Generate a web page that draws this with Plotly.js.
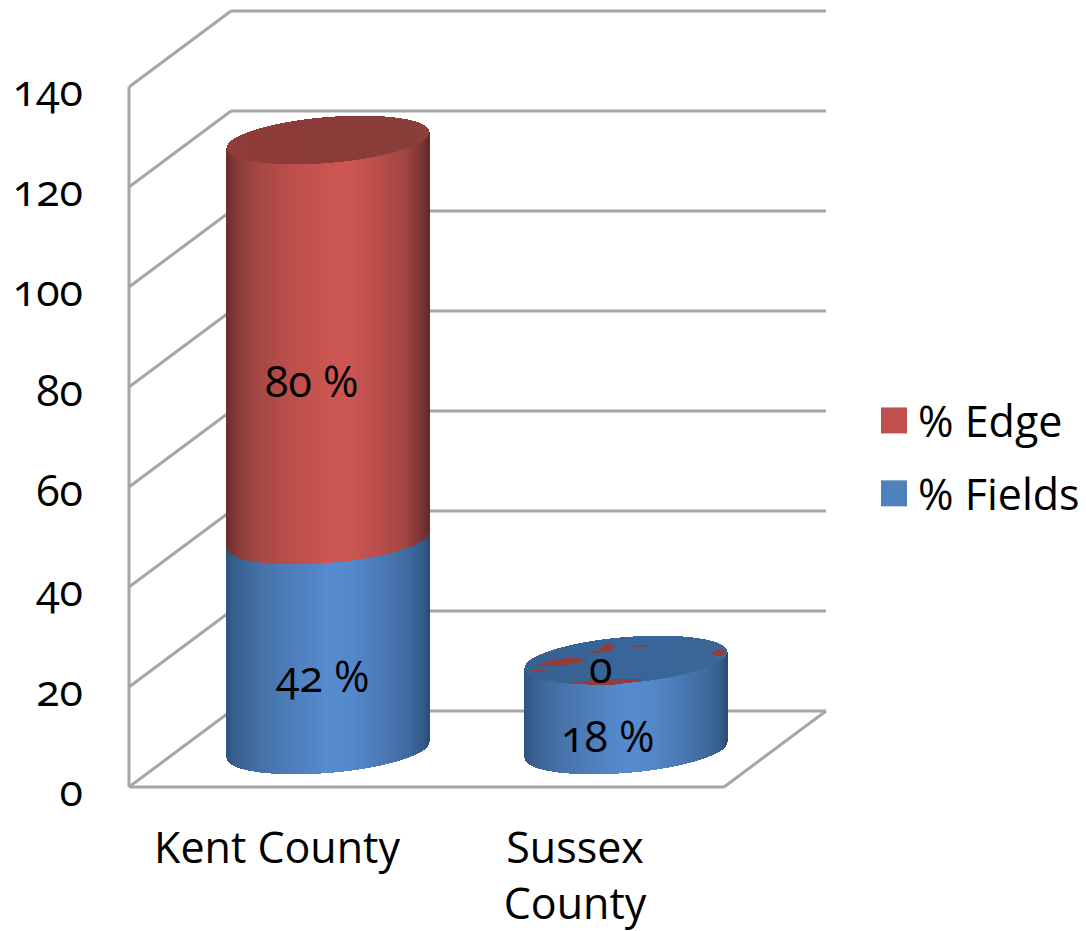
<!DOCTYPE html>
<html>
<head>
<meta charset="utf-8">
<script src="https://cdn.plot.ly/plotly-3.0.1.min.js"></script>
<style>
html,body{margin:0;padding:0;background:#fff;font-variant-numeric:oldstyle-nums;font-feature-settings:"onum" 1;}
#chart{width:1086px;height:931px;}
#chart text{font-variant-numeric:oldstyle-nums;font-feature-settings:"onum" 1;}
</style>
</head>
<body>
<div id="chart"></div>
<script>
// ---- data ----
const categories = ['Kent County', 'Sussex<br>County'];
const fieldsValues = [42, 18];
const edgeValues = [80, 0];
const yTicks = [0, 20, 40, 60, 80, 100, 120, 140];

// ---- frame: pixel scale of the axes ----
const W = 1086, H = 931;
const plotL = 120, plotR = 832, plotT = 5, plotB = 795;
const pxPerCat = 298, pxPerUnit = 5, cat0Px = 277, zeroPx = 787;
const toX = px => (px - cat0Px) / pxPerCat;
const dX = px => px / pxPerCat;
const dY = px => px / pxPerUnit;
const toY = py => (zeroPx - py) / pxPerUnit;

// depth of the 3-D box
const depthX = dX(102), depthY = dY(76);
const cylX = dX(51), cylY = dY(37);   // cylinder axis sits mid-depth
const radX = 101.5, radY = 23, tilt = 8;

const RED = '#C0504D', BLUE = '#4F81BD';
const redStops = [[-1,'#6a2e2c'],[-0.9,'#853a38'],[-0.7,'#a44744'],[-0.4,'#b94e4a'],[0.0,'#cb5551'],[0.2,'#cc5652'],[0.5,'#ba4e4b'],[0.75,'#a14643'],[0.92,'#7c3634'],[1,'#5f2a28']];
const blueStops = [[-1,'#2f5480'],[-0.9,'#3a6190'],[-0.65,'#4672a9'],[-0.3,'#4f80bf'],[0.0,'#568bd0'],[0.25,'#5488cb'],[0.55,'#4a78b4'],[0.8,'#3f6a9e'],[0.94,'#335a88'],[1,'#2a4b72']];

function hex(c){return [1,3,5].map(i=>parseInt(c.substr(i,2),16));}
function shade(stops,u){
  for(let i=1;i<stops.length;i++){
    if(u<=stops[i][0]){
      const f=(u-stops[i-1][0])/(stops[i][0]-stops[i-1][0]);
      const a=hex(stops[i-1][1]),b=hex(stops[i][1]);
      return 'rgb('+a.map((v,j)=>Math.round(v+(b[j]-v)*f)).join(',')+')';
    }
  }
  return stops[stops.length-1][1];
}
// rim offset (pixels, positive = down) of the front/back of the ellipse at normalised position u
const front = u => radY*Math.sqrt(Math.max(0,1-u*u)) - tilt*u;
const back  = u => -radY*Math.sqrt(Math.max(0,1-u*u)) - tilt*u;

function strips(){ return {x:[],base:[],y:[],width:[],color:[]}; }
function push(s,xv,b,h,c){ s.x.push(xv); s.base.push(b); s.y.push(h); s.width.push(dX(1.35)); s.color.push(c); }
function columns(cat,fn){
  const cx = cat0Px + cat*pxPerCat + 51;
  for(let p=-radX;p<=radX;p+=1){
    const u=p/radX;
    fn(toX(cx+p),u);
  }
}

const fieldSide=strips(), edgeSide=strips(), caps=strips(), flecks=strips();
categories.forEach((_,i)=>{
  const f=fieldsValues[i], e=edgeValues[i];
  columns(i,(xv,u)=>{
    const foot=cylY-dY(front(u));
    push(fieldSide,xv,foot,f,shade(blueStops,u));
    if(e>0) push(edgeSide,xv,foot+f,e,shade(redStops,u));
    const capV=cylY+f+e;
    const capColor = e>0 ? shade([[-1,'#913c39'],[0,'#8a3b38'],[1,'#8a3f3b']],u)
                         : shade([[-1,'#36628f'],[0,'#38669a'],[1,'#3a6795']],u);
    push(caps,xv,capV-dY(front(u)),dY(front(u)-back(u)),capColor);
  });
});

// the zero "% Edge" cap shows through the Sussex top as thin red slivers:
// [uFrom, uTo, position across the cap (0 back .. 1 front), thickness px]
const sliverRanges = [[-0.56,0.18,0.96,5.5],[-0.90,-0.36,0.42,7],[-0.26,-0.10,0.20,8],[0.84,0.98,0.50,7],[-0.38,-0.18,0.26,2.4],[0.05,0.24,0.22,2.4],[-0.95,-0.78,0.66,3]];
sliverRanges.forEach(r=>{
  columns(1,(xv,u)=>{
    if(u<r[0]||u>r[1])return;
    const m=(u-r[0])/(r[1]-r[0]);
    const th=r[3]*Math.sin(Math.PI*m);
    const pos=back(u)+(front(u)-back(u))*r[2];
    const capV=cylY+fieldsValues[1]+edgeValues[1];
    push(flecks,xv,capV-dY(pos+th/2),dY(th),'#923d3c');
  });
});

function stripTrace(s){
  return {type:'bar',x:s.x,base:s.base,y:s.y,width:s.width,marker:{color:s.color,line:{width:0}},showlegend:false,hoverinfo:'skip',orientation:'v'};
}
const xc = categories.map((_,i)=>i+cylX);
const coreWidth = dX(150);
const traces = [
  {type:'bar',name:'% Edge',x:xc,y:edgeValues,base:fieldsValues.map(v=>cylY+v),width:coreWidth,marker:{color:RED,line:{width:0}},legendgroup:'e'},
  {type:'bar',name:'% Fields',x:xc,y:fieldsValues,base:fieldsValues.map(()=>cylY),width:coreWidth,marker:{color:BLUE,line:{width:0}},legendgroup:'f'},
  stripTrace(fieldSide),stripTrace(edgeSide),stripTrace(caps),stripTrace(flecks)
];

// box wireframe
const GRID='#A6A6A6', GW=3;
const line=(x0,y0,x1,y1)=>({type:'line',layer:'below',xref:'x',yref:'y',x0,y0,x1,y1,line:{color:GRID,width:GW}});
const leftX=toX(129), rightX=toX(724);
const shapes=[];
yTicks.forEach(v=>{
  shapes.push(line(leftX,v,leftX+depthX,v+depthY));
  shapes.push(line(leftX+depthX,v+depthY,rightX+depthX,v+depthY));
});
shapes.push(line(leftX,0,leftX,yTicks[yTicks.length-1]));
shapes.push(line(leftX,0,rightX,0));
shapes.push(line(rightX,0,rightX+depthX,depthY));

const FONT='"Open Sans"', FS=43;
const TXT={family:FONT,size:FS,color:'#000'};
const labelPx=[[323,675],[312,380],[608,735],[600,666]];
const labelText=[fieldsValues[0]+' %',edgeValues[0]+' %',fieldsValues[1]+' %',String(edgeValues[1])];
const annotations=labelText.map((t,i)=>({xref:'x',yref:'y',x:toX(labelPx[i][0]),y:toY(labelPx[i][1]),text:t,showarrow:false,font:TXT,xanchor:'center',yanchor:'middle'}));

const layout={
  width:W,height:H,
  margin:{l:plotL,r:W-plotR,t:plotT,b:H-plotB,pad:0,autoexpand:false},
  paper_bgcolor:'#fff',plot_bgcolor:'rgba(0,0,0,0)',
  barmode:'overlay',bargap:0,
  font:TXT,
  showlegend:true,
  legend:{x:(870-plotL)/(plotR-plotL),xanchor:'left',y:(plotB-386)/(plotB-plotT),yanchor:'top',itemwidth:38,
          font:TXT,bgcolor:'rgba(0,0,0,0)',borderwidth:0,tracegroupgap:14,traceorder:'grouped'},
  xaxis:{range:[toX(plotL),toX(plotR)],tickvals:categories.map((_,i)=>i),ticktext:categories,tickangle:0,showgrid:false,zeroline:false,showline:false,ticks:'',ticklabelstandoff:24,tickfont:TXT,fixedrange:true},
  yaxis:{range:[toY(plotB),toY(plotT)],tickvals:yTicks,showgrid:false,zeroline:false,showline:false,ticks:'',ticklabelstandoff:36,ticklabelshift:4,tickfont:TXT,fixedrange:true},
  shapes,annotations
};
Plotly.newPlot('chart',traces,layout,{staticPlot:true,displayModeBar:false}).then(gd=>{
  gd.querySelectorAll('.legend path.legendbar, .legend .legendpoints path').forEach(p=>p.setAttribute('d','M13,13H-13V-13H13Z'));
});
</script>
</body>
</html>
